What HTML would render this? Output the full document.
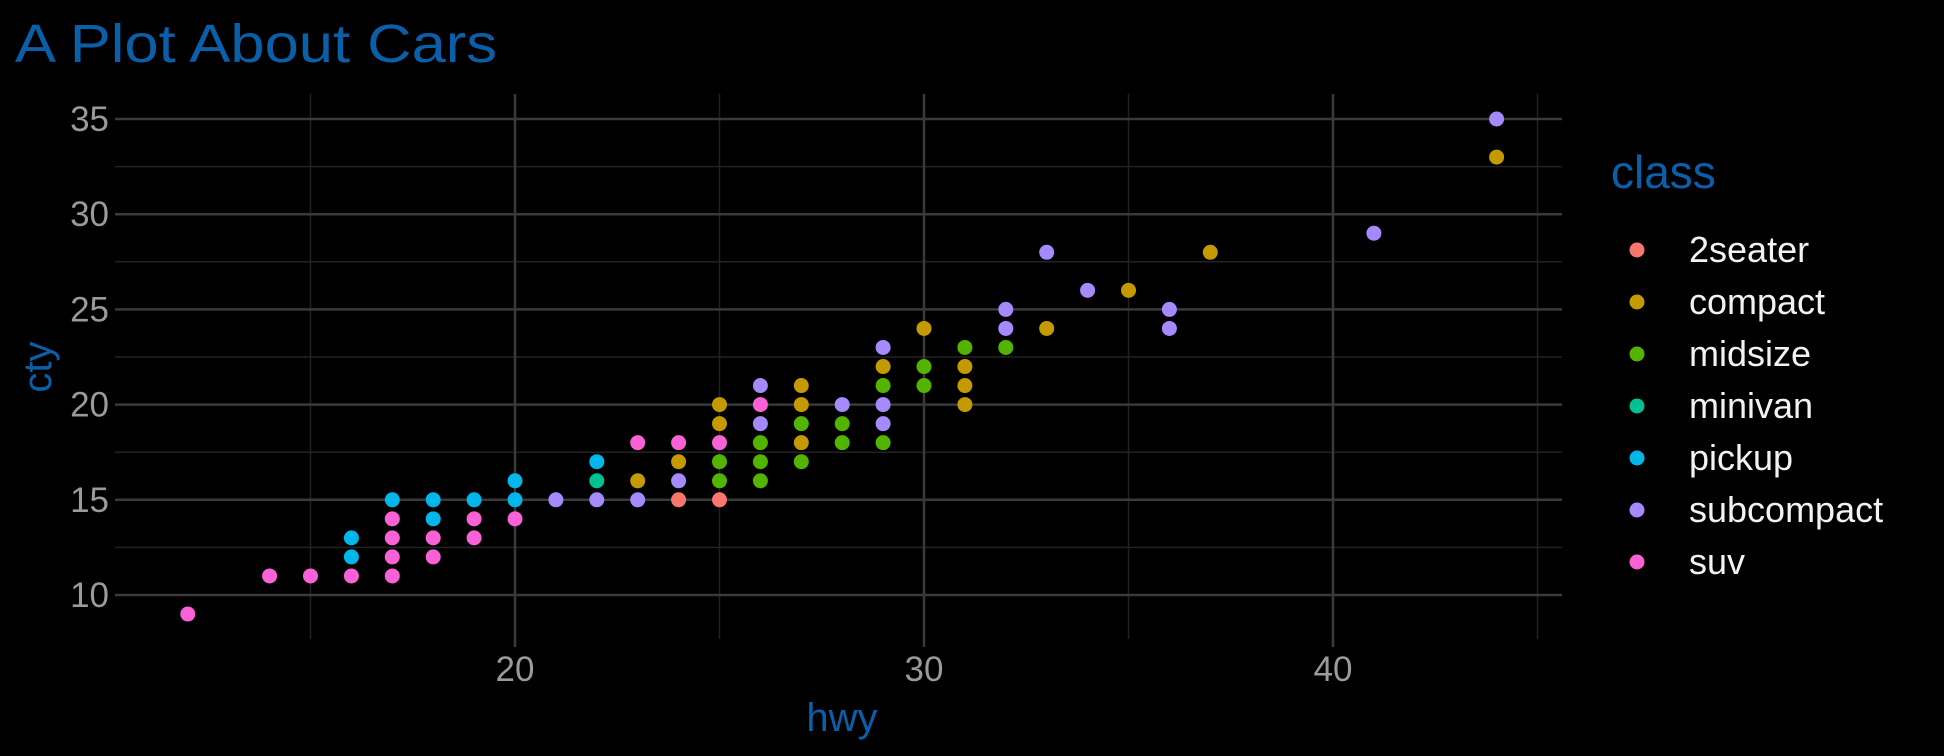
<!DOCTYPE html>
<html><head><meta charset="utf-8">
<style>
html,body{margin:0;padding:0;background:#000;width:1944px;height:756px;overflow:hidden}
svg{display:block}
text{font-family:"Liberation Sans","DejaVu Sans",sans-serif}
</style></head>
<body>
<svg id="chart" width="1944" height="756" viewBox="0 0 1944 756">
<rect width="1944" height="756" fill="#000"/>
<text x="15" y="62" fill="#0b5fa8" font-size="54" textLength="482" lengthAdjust="spacingAndGlyphs">A Plot About Cars</text>
<g id="grid"></g>
<g id="axes"></g>
<g id="points"></g>
<g id="legend"></g>
<text x="842" y="731" fill="#0b5fa8" font-size="40" text-anchor="middle">hwy</text>
<text transform="translate(51,367) rotate(-90)" fill="#0b5fa8" font-size="40" text-anchor="middle">cty</text>
</svg>
<script>
const classes=["2seater","compact","midsize","minivan","pickup","subcompact","suv"];
const colors=["#F8766D","#C49A00","#53B400","#00C094","#00B6EB","#A58AFF","#FB61D7"];
const xTicks=[20,30,40];
const yTicks=[10,15,20,25,30,35];
const hwy=[12,14,15,16,17,17,17,17,18,18,19,19,20,23,24,25,26,
16,16,17,18,18,19,20,20,22,
22,
21,22,23,24,26,26,28,29,29,29,32,32,33,34,36,36,41,44,
24,25,
23,24,25,25,27,27,27,29,30,31,31,31,33,35,37,44,
25,25,26,26,26,27,27,28,28,29,29,30,30,31,32];
const cty=[9,11,11,11,11,12,13,14,12,13,13,14,14,18,18,18,20,
13,12,15,15,14,15,16,15,17,
16,
15,15,15,16,21,19,20,23,20,19,25,24,28,26,25,24,29,35,
15,15,
16,17,20,19,21,20,18,22,24,22,21,20,24,26,28,33,
17,16,18,17,16,19,17,19,18,21,18,22,21,23,23];
const cls=[6,6,6,6,6,6,6,6,6,6,6,6,6,6,6,6,6,
4,4,4,4,4,4,4,4,4,
3,
5,5,5,5,5,5,5,5,5,5,5,5,5,5,5,5,5,5,
0,0,
1,1,1,1,1,1,1,1,1,1,1,1,1,1,1,1,
2,2,2,2,2,2,2,2,2,2,2,2,2,2,2];
const NS="http://www.w3.org/2000/svg";
const L=115,R=1562,T=94,B=639;
const xs=v=>515+(v-20)*40.9;
const ys=v=>595-(v-10)*19.04;
function mk(tag,attrs,parent){const e=document.createElementNS(NS,tag);for(const k in attrs)e.setAttribute(k,attrs[k]);parent.appendChild(e);return e;}
const grid=document.getElementById('grid'),axes=document.getElementById('axes');
for(let v=12.5;v<35;v+=5){const l=mk('line',{x1:L,x2:R,y1:ys(v),y2:ys(v),stroke:'#222','stroke-width':1.5},grid);

}
for(let v=15;v<=45;v+=10){const l=mk('line',{x1:xs(v),x2:xs(v),y1:T,y2:B,stroke:'#222','stroke-width':1.5},grid);

}
yTicks.forEach(v=>{const l=mk('line',{x1:L,x2:R,y1:ys(v),y2:ys(v),stroke:'#3a3a3a','stroke-width':2.5},grid);


const t=mk('text',{x:109,y:ys(v)+12,fill:'#9a9a9a','font-size':35,'text-anchor':'end'},axes);t.textContent=v;

});
xTicks.forEach(v=>{const l=mk('line',{x1:xs(v),x2:xs(v),y1:T,y2:B+8,stroke:'#3a3a3a','stroke-width':2.5},grid);


const t=mk('text',{x:xs(v),y:681,fill:'#9a9a9a','font-size':35,'text-anchor':'middle'},axes);t.textContent=v;

});
const pts=document.getElementById('points');
hwy.forEach((h,i)=>{const c=mk('circle',{cx:xs(h),cy:ys(cty[i]),r:7.5,fill:colors[cls[i]]},pts);

});
const lg=document.getElementById('legend');
const lt=mk('text',{x:1611,y:188,fill:'#0b5fa8','font-size':46},lg);lt.textContent='class';


classes.forEach((c,i)=>{const y=250+i*52;
const d=mk('circle',{cx:1637,cy:y,r:7.5,fill:colors[i]},lg);


const t=mk('text',{x:1689,y:y+12,fill:'#f2f2f2','font-size':36},lg);t.textContent=c;

});
</script>
</body></html>
